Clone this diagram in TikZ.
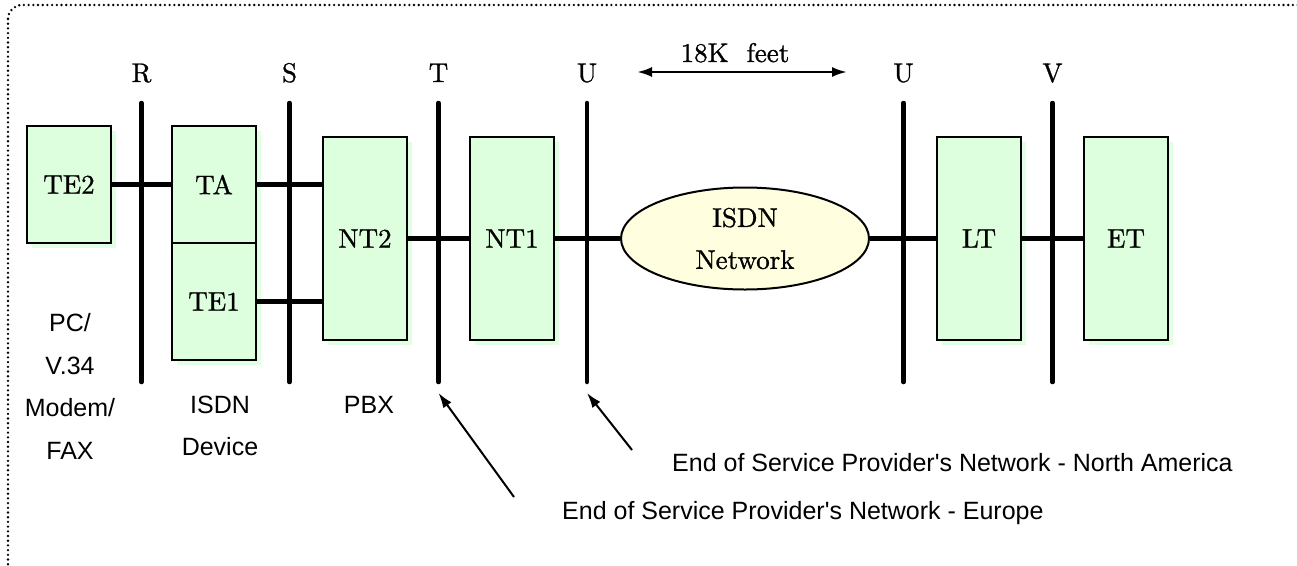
\documentclass[tikz,border=0pt]{standalone}
\usepackage{fontspec}
\setsansfont{Liberation Sans}
\newfontfamily\unitfont[FakeBold=1]{lmroman10-regular.otf}
\usetikzlibrary{positioning,calc,shapes.geometric,shadows,arrows.meta}
\definecolor{unitgreen}{HTML}{DDFFDD}
\definecolor{unitshade}{HTML}{E3FFE3}
\definecolor{netyellow}{HTML}{FFFFE0}

\begin{document}
\begin{tikzpicture}[x=1pt,y=-1pt]
      \tikzstyle{unit}=[rectangle, draw=black, line width=1.6pt, fill=unitgreen, minimum width=84pt, minimum height=117pt, inner sep=0pt, outer sep=0pt, font=\unitfont\fontsize{27}{32}\selectfont, drop shadow={shadow xshift=5pt, shadow yshift=-5pt, fill=unitshade, opacity=1}]
      \tikzstyle{tall}=[minimum height=203pt]
      \tikzstyle{netcloud}=[ellipse, draw=black, line width=2pt, fill=netyellow, minimum width=248pt, minimum height=102pt, inner sep=0pt, align=center, font=\unitfont\fontsize{27}{42}\selectfont]
      \tikzstyle{reflbl}=[anchor=base, inner sep=0pt, font=\unitfont\fontsize{27}{32}\selectfont]
      \tikzstyle{bar}=[line width=4.5pt, line cap=round]
      \tikzstyle{link}=[line width=4.5pt]
      \tikzstyle{span}=[{Latex[length=15pt,width=10pt]}-{Latex[length=15pt,width=10pt]}, line width=2.5pt]
      \tikzstyle{pointer}=[-{Latex[length=15pt,width=10pt]}, line width=2pt]
      \tikzstyle{kind}=[align=center, inner sep=0pt, font=\sffamily\fontsize{25}{42.5}\selectfont]
      \tikzstyle{note}=[anchor=base west, inner sep=0pt, font=\sffamily\fontsize{25}{30}\selectfont]

      \useasboundingbox (0,0) rectangle (1297,565);
      \clip (0,0) rectangle (1297,565);
      \draw[line width=2.6pt, line cap=round, dash pattern=on 0pt off 4.7pt, rounded corners=14pt] (8,5) rectangle (1340,610);

      \node[unit] (te2) at (69,184.5) {TE2};
      \node[unit] (ta) [right=61pt of te2] {TA};
      \node[unit] (te1) [below=0pt of ta] {TE1};
      \node[unit, tall] (nt2) [right=67pt of ta, yshift=-54pt] {NT2};
      \node[unit, tall] (nt1) [right=63pt of nt2] {NT1};
      \node[netcloud] (isdn) [right=66pt of nt1] {ISDN\\Network};
      \node[unit, tall] (lt) [right=67pt of isdn] {LT};
      \node[unit, tall] (et) [right=63pt of lt] {ET};

      % reference points
      \coordinate (bartop) at (0,103);
      \coordinate (barbot) at (0,382);
      \coordinate (lblrow) at (0,82);
      \foreach \a/\b/\lbl [count=\i] in {te2/ta/R, ta/nt2/S, nt2/nt1/T, nt1/isdn/U, isdn/lt/U, lt/et/V} {
        \coordinate (ref\i) at ($(\a.east)!.5!(\b.west)$);
        \node[reflbl] (lbl\i) at (ref\i |- lblrow) {\lbl};
        \draw[bar] (ref\i |- bartop) coordinate (top\i) -- (ref\i |- barbot) coordinate (bot\i);
      }

      \path (te2) edge [link] (ta)
            (ta) edge [link] (ta -| nt2.west)
            (te1) edge [link] (te1 -| nt2.west)
            (nt2) edge [link] (nt1)
            (nt1) edge [link] (isdn)
            (isdn) edge [link] (lt)
            (lt) edge [link] (et);

      % loop length
      \node[reflbl] (len) at (735,62) {18K\ \ feet};
      \coordinate (lenl) at (637,72);
      \coordinate (lenr) at (847,72);
      \draw[span] (lenl) -- (lenr);

      \node[kind] (pc) at (70,386.5) {PC/\\V.34\\Modem/\\FAX};
      \node[kind] (dev) at (220,426) {ISDN\\Device};
      \node[kind] (pbx) at (369,404.5) {PBX};

      \node[note] (na) at (672,471) {End\ of\ Service\ Provider\textquotesingle s\ Network\ -\ North\ America};
      \node[note] (eu) at (562,519) {End\ of\ Service\ Provider\textquotesingle s\ Network\ -\ Europe};
      \coordinate (natail) at (632,450);
      \coordinate (eutail) at (514,497);
      \draw[pointer] (natail) -- ([yshift=-11pt]bot4);
      \draw[pointer] (eutail) -- ([yshift=-11pt]bot3);
\end{tikzpicture}
\end{document}
